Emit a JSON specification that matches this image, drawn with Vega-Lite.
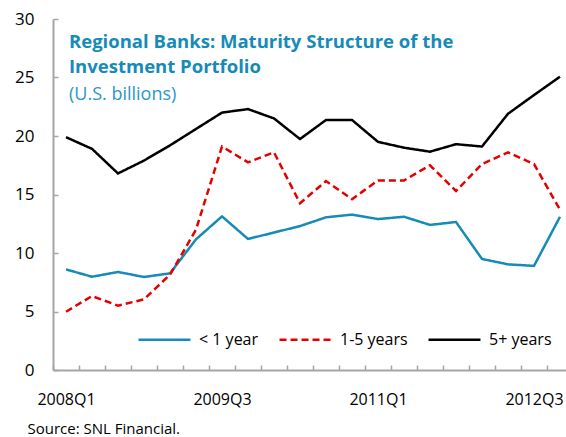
{
  "$schema": "https://vega.github.io/schema/vega-lite/v6.json",
  "width": 513,
  "height": 351,
  "autosize": {"type": "none"},
  "padding": {"left": 53, "top": 19, "right": 0, "bottom": 67},
  "background": "white",
  "config": {
    "view": {"stroke": null},
    "font": "Open Sans",
    "axis": {
      "domainColor": "#a6a6a6",
      "domainWidth": 2,
      "tickColor": "#a6a6a6",
      "tickWidth": 1.5,
      "tickSize": -5,
      "grid": false,
      "labelColor": "#000000",
      "labelFont": "Open Sans",
      "labelFontSize": 16
    }
  },
  "title": {
    "text": ["Regional Banks: Maturity Structure of the", "Investment Portfolio"],
    "subtitle": "(U.S. billions)",
    "anchor": "start",
    "frame": "group",
    "orient": "top",
    "offset": -94,
    "dx": 16,
    "font": "Open Sans",
    "fontSize": 18.5,
    "fontWeight": "bold",
    "color": "#168bb8",
    "lineHeight": 25,
    "subtitleFont": "Open Sans",
    "subtitleFontSize": 18,
    "subtitleColor": "#2a97c9",
    "subtitlePadding": 10
  },
  "datasets": {
    "series": [
      {"q": "2008Q1", "s": "< 1 year", "v": 8.6},
      {"q": "2008Q2", "s": "< 1 year", "v": 7.97},
      {"q": "2008Q3", "s": "< 1 year", "v": 8.38},
      {"q": "2008Q4", "s": "< 1 year", "v": 7.95},
      {"q": "2009Q1", "s": "< 1 year", "v": 8.26},
      {"q": "2009Q2", "s": "< 1 year", "v": 11.17},
      {"q": "2009Q3", "s": "< 1 year", "v": 13.13},
      {"q": "2009Q4", "s": "< 1 year", "v": 11.2},
      {"q": "2010Q1", "s": "< 1 year", "v": 11.75},
      {"q": "2010Q2", "s": "< 1 year", "v": 12.3},
      {"q": "2010Q3", "s": "< 1 year", "v": 13.05},
      {"q": "2010Q4", "s": "< 1 year", "v": 13.28},
      {"q": "2011Q1", "s": "< 1 year", "v": 12.9},
      {"q": "2011Q2", "s": "< 1 year", "v": 13.1},
      {"q": "2011Q3", "s": "< 1 year", "v": 12.4},
      {"q": "2011Q4", "s": "< 1 year", "v": 12.65},
      {"q": "2012Q1", "s": "< 1 year", "v": 9.49},
      {"q": "2012Q2", "s": "< 1 year", "v": 9.03},
      {"q": "2012Q3", "s": "< 1 year", "v": 8.9},
      {"q": "2012Q4", "s": "< 1 year", "v": 13.1},
      {"q": "2008Q1", "s": "1-5 years", "v": 4.98},
      {"q": "2008Q2", "s": "1-5 years", "v": 6.32},
      {"q": "2008Q3", "s": "1-5 years", "v": 5.5},
      {"q": "2008Q4", "s": "1-5 years", "v": 6.04},
      {"q": "2009Q1", "s": "1-5 years", "v": 8.15},
      {"q": "2009Q2", "s": "1-5 years", "v": 12.0},
      {"q": "2009Q3", "s": "1-5 years", "v": 19.1},
      {"q": "2009Q4", "s": "1-5 years", "v": 17.75},
      {"q": "2010Q1", "s": "1-5 years", "v": 18.6},
      {"q": "2010Q2", "s": "1-5 years", "v": 14.25},
      {"q": "2010Q3", "s": "1-5 years", "v": 16.15},
      {"q": "2010Q4", "s": "1-5 years", "v": 14.6},
      {"q": "2011Q1", "s": "1-5 years", "v": 16.2},
      {"q": "2011Q2", "s": "1-5 years", "v": 16.2},
      {"q": "2011Q3", "s": "1-5 years", "v": 17.5},
      {"q": "2011Q4", "s": "1-5 years", "v": 15.3},
      {"q": "2012Q1", "s": "1-5 years", "v": 17.6},
      {"q": "2012Q2", "s": "1-5 years", "v": 18.6},
      {"q": "2012Q3", "s": "1-5 years", "v": 17.6},
      {"q": "2012Q4", "s": "1-5 years", "v": 13.7},
      {"q": "2008Q1", "s": "5+ years", "v": 19.9},
      {"q": "2008Q2", "s": "5+ years", "v": 18.9},
      {"q": "2008Q3", "s": "5+ years", "v": 16.8},
      {"q": "2008Q4", "s": "5+ years", "v": 17.9},
      {"q": "2009Q1", "s": "5+ years", "v": 19.2},
      {"q": "2009Q2", "s": "5+ years", "v": 20.6},
      {"q": "2009Q3", "s": "5+ years", "v": 22.0},
      {"q": "2009Q4", "s": "5+ years", "v": 22.3},
      {"q": "2010Q1", "s": "5+ years", "v": 21.5},
      {"q": "2010Q2", "s": "5+ years", "v": 19.74},
      {"q": "2010Q3", "s": "5+ years", "v": 21.37},
      {"q": "2010Q4", "s": "5+ years", "v": 21.37},
      {"q": "2011Q1", "s": "5+ years", "v": 19.5},
      {"q": "2011Q2", "s": "5+ years", "v": 19.0},
      {"q": "2011Q3", "s": "5+ years", "v": 18.66},
      {"q": "2011Q4", "s": "5+ years", "v": 19.3},
      {"q": "2012Q1", "s": "5+ years", "v": 19.1},
      {"q": "2012Q2", "s": "5+ years", "v": 21.9},
      {"q": "2012Q3", "s": "5+ years", "v": 23.5},
      {"q": "2012Q4", "s": "5+ years", "v": 25.07}
    ]
  },
  "layer": [
    {
      "mark": {"type": "rule", "color": "#a6a6a6", "strokeWidth": 2},
      "encoding": {
        "y": {"datum": 30, "type": "quantitative", "scale": {"domain": [0, 30]}}
      }
    },
    {
      "data": {"name": "series"},
      "mark": {"type": "line", "strokeWidth": 2.5},
      "encoding": {
        "x": {
          "field": "q",
          "type": "ordinal",
          "sort": null,
          "bandPosition": 0.5,
          "scale": {"type": "band", "paddingInner": 0, "paddingOuter": 0, "range": [0, 520]},
          "axis": {
            "tickBand": "extent",
            "labelAngle": 0,
            "labelFontSize": 16,
            "labelPadding": 26,
            "labelExpr": "indexof(['2008Q1','2009Q3','2011Q1','2012Q3'], datum.value) >= 0 ? datum.label : ''",
            "title": "Source: SNL Financial.",
            "titleAnchor": "start",
            "titleX": -26,
            "titleY": 63,
            "titleFont": "Open Sans",
            "titleFontSize": 15,
            "titleFontWeight": "normal",
            "titleColor": "#000000",
            "titleBaseline": "alphabetic"
          }
        },
        "y": {
          "field": "v",
          "type": "quantitative",
          "scale": {"domain": [0, 30]},
          "axis": {"values": [0, 5, 10, 15, 20, 25, 30], "labelFontSize": 17, "labelPadding": 24, "title": null}
        },
        "color": {
          "field": "s",
          "type": "nominal",
          "scale": {"domain": ["< 1 year", "1-5 years", "5+ years"], "range": ["#168bb8", "#e50000", "#000000"]},
          "legend": {
            "orient": "none",
            "legendX": 84,
            "legendY": 293,
            "direction": "horizontal",
            "title": null,
            "symbolType": "stroke",
            "symbolSize": 2700,
            "symbolStrokeWidth": 2.5,
            "labelFontSize": 16,
            "labelFont": "Open Sans",
            "labelColor": "#000000",
            "labelOffset": 7,
            "columnPadding": 15
          }
        },
        "strokeDash": {
          "field": "s",
          "type": "nominal",
          "scale": {"domain": ["< 1 year", "1-5 years", "5+ years"], "range": [[1, 0], [7, 4], [1, 0]]},
          "legend": {
            "orient": "none",
            "legendX": 84,
            "legendY": 293,
            "direction": "horizontal",
            "title": null,
            "symbolType": "stroke",
            "symbolSize": 2700,
            "symbolStrokeWidth": 2.5,
            "labelFontSize": 16,
            "labelFont": "Open Sans",
            "labelColor": "#000000",
            "labelOffset": 7,
            "columnPadding": 15
          }
        }
      }
    }
  ]
}
